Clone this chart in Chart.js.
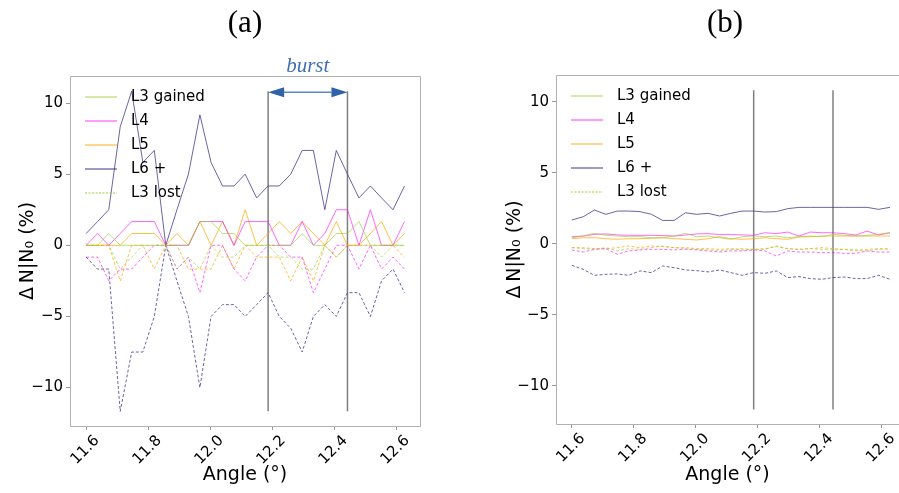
<!DOCTYPE html>
<html>
<head>
<meta charset="utf-8">
<script src="https://cdn.jsdelivr.net/npm/chart.js@4.4.0/dist/chart.umd.min.js"></script>
<style>
  html, body { margin: 0; padding: 0; background: #fff; overflow: hidden; }
  #wrap { position: relative; width: 899px; height: 493px; }
  .panel { position: absolute; top: 0; height: 493px; }
  .ptitle { position: absolute; top: 4px; font-family: "Liberation Serif", serif; font-size: 31px; color: #000; transform: translateX(-50%); }
</style>
</head>
<body>
<div id="wrap">
  <div class="panel" style="left:0;width:450px"><canvas id="chartA" width="450" height="493"></canvas></div>
  <div class="panel" style="left:450px;width:449px"><canvas id="chartB" width="449" height="493"></canvas></div>
  <div class="ptitle" style="left:245px">(a)</div>
  <div class="ptitle" style="left:725px">(b)</div>
</div>
<script>
// angles (deg) of the scan
const angles = [11.600, 11.637, 11.673, 11.710, 11.747, 11.783, 11.820, 11.857, 11.893, 11.930,
                11.967, 12.003, 12.040, 12.077, 12.113, 12.150, 12.187, 12.223, 12.260, 12.297,
                12.333, 12.370, 12.407, 12.443, 12.480, 12.517, 12.553, 12.590, 12.627];

// panel (a)
const a_L3gained = [0, 0, 0.83, 0, 0, 0, 0, 0, 0, 0, 1.67, 1.67, 0.83, 0.83, 0, 0, 0, 0, 0, 0.83, 0, 0, 0.83, 0.83, 1.67, 0, 0, 0, 0];
const a_L4 = [0, 0.83, 0, 0.83, 1.67, 1.67, 1.67, 0, 0, 0, 1.67, 1.67, 1.67, 0, 1.67, 1.67, 1.67, 0, 0, 1.67, 0, 0.83, 2.5, 2.5, 0, 2.5, 0, 0, 1.67];
const a_L5 = [0, 0, 0, 0, 0.83, 0.83, 0.83, 0, 0.83, 0, 1.67, 0, 1.67, 0, 2.5, 0, 0.83, 1.67, 0.83, 1.67, 0.83, 0, 1.67, 0, 0, 0.83, 1.67, 0, 0.83];
const a_L6 = [0.83, 1.67, 2.5, 8.33, 10.83, 5.83, 6.67, 0, 2.5, 5, 9.17, 5.83, 4.17, 4.17, 5, 3.33, 4.17, 4.17, 5, 6.67, 6.67, 2.5, 6.67, 5, 3.33, 4.17, 3.33, 2.5, 4.17];
const a_L3lost = [0, 0, 0, -1.67, -0.83, 0, 0, 0, -1.67, -0.83, -1.67, 0, -0.83, -0.83, 0, 0, 0, -0.83, -0.83, -1.67, -1.67, 0, -0.83, 0, 0, 0, -0.83, 0, 0];
const a_L4lost = [-0.83, -0.83, -2.5, -1.67, -1.67, -0.83, 0, 0, -1.67, -0.83, -3.33, 0, 0, -1.67, -2.5, -0.83, 0, 0, -0.83, -0.83, -3.33, -1.67, 0, 0, -1.67, 0, -1.67, -0.83, -1.67];
const a_L5lost = [0, 0, 0, -2.5, 0, 0, -1.67, 0, 0, -1.67, -1.67, -1.67, 0, -1.67, 0, -0.83, -0.83, -0.83, -2.5, -0.83, -2.5, 0, -0.83, 0, 0, 0, 0, 0, -0.83];
const a_L6lost = [-0.83, -1.67, -1.67, -11.67, -7.5, -7.5, -5, 0, -2.5, -5, -10, -5, -4.17, -4.17, -5, -4.17, -3.33, -5, -5.83, -7.5, -5, -4.17, -5, -3.33, -3.33, -5, -2.5, -1.67, -3.33];

// panel (b)
const b_L3gained = [0.43, 0.55, 0.74, 0.6, 0.55, 0.5, 0.5, 0.43, 0.43, 0.55, 0.74, 0.5, 0.55, 0.43, 0.32, 0.5, 0.55, 0.5, 0.55, 0.43, 0.5, 0.55, 0.5, 0.67, 0.6, 0.55, 0.6, 0.67, 0.79];
const b_L4 = [0.5, 0.55, 0.67, 0.7, 0.63, 0.6, 0.6, 0.6, 0.58, 0.55, 0.62, 0.7, 0.72, 0.65, 0.65, 0.63, 0.6, 0.78, 0.72, 0.83, 0.55, 0.83, 0.78, 0.78, 0.72, 0.62, 0.9, 0.62, 0.78];
const b_L5 = [0.36, 0.43, 0.43, 0.36, 0.32, 0.36, 0.36, 0.39, 0.43, 0.36, 0.32, 0.27, 0.36, 0.5, 0.36, 0.32, 0.36, 0.43, 0.36, 0.32, 0.48, 0.5, 0.55, 0.55, 0.55, 0.55, 0.55, 0.55, 0.55];
const b_L6 = [1.68, 1.91, 2.38, 2.08, 2.31, 2.31, 2.27, 2.08, 1.65, 1.65, 2.19, 2.08, 2.15, 1.96, 2.15, 2.31, 2.31, 2.24, 2.27, 2.48, 2.57, 2.57, 2.57, 2.57, 2.57, 2.57, 2.57, 2.43, 2.57];
const b_L3lost = [-0.27, -0.34, -0.39, -0.27, -0.5, -0.34, -0.39, -0.27, -0.15, -0.27, -0.34, -0.39, -0.43, -0.5, -0.39, -0.34, -0.39, -0.34, -0.2, -0.34, -0.39, -0.34, -0.39, -0.43, -0.39, -0.39, -0.5, -0.39, -0.34];
const b_L4lost = [-0.43, -0.58, -0.39, -0.34, -0.74, -0.5, -0.43, -0.39, -0.39, -0.43, -0.39, -0.43, -0.5, -0.58, -0.5, -0.5, -0.43, -0.5, -0.86, -0.5, -0.58, -0.58, -0.62, -0.62, -0.67, -0.67, -0.5, -0.58, -0.58];
const b_L5lost = [-0.27, -0.27, -0.34, -0.34, -0.27, -0.15, -0.27, -0.15, -0.2, -0.27, -0.27, -0.34, -0.34, -0.39, -0.34, -0.43, -0.39, -0.39, -0.15, -0.34, -0.39, -0.34, -0.27, -0.34, -0.39, -0.5, -0.39, -0.34, -0.39];
const b_L6lost = [-1.51, -1.8, -2.22, -2.15, -2.12, -2.22, -1.91, -2.03, -1.56, -1.68, -1.84, -1.89, -1.98, -1.84, -2.03, -2.22, -2.03, -2.08, -1.91, -2.38, -2.31, -2.45, -2.5, -2.38, -2.34, -2.45, -2.45, -2.22, -2.5];

// burst window and range of the vertical markers
const burstStart = 12.187;
const burstEnd = 12.443;
const markerRange = [-11.67, 10.83];

const xTicks = [11.6, 11.8, 12.0, 12.2, 12.4, 12.6];
const yTicks = [-10, -5, 0, 5, 10];

const legendNames = ["L3 gained", "L4", "L5", "L6 +", "L3 lost"];

const colL3 = "rgba(154,205,50,0.65)";
const colL4 = "rgba(255,0,255,0.6)";
const colL5 = "rgba(255,165,0,0.7)";
const colL6 = "rgba(72,61,139,0.8)";
const legendColors = [colL3, colL4, colL5, colL6, colL3];
const legendDashed = [false, false, false, false, true];

const FONT = "DejaVu Sans";

function series(vals, color, dashed) {
  return {
    data: angles.map((x, i) => ({ x: x, y: vals[i] })),
    borderColor: color,
    borderWidth: 1,
    borderDash: dashed ? [3, 2] : [],
    pointRadius: 0,
    tension: 0,
    fill: false,
  };
}

function marker(x) {
  return {
    data: [{ x: x, y: markerRange[0] }, { x: x, y: markerRange[1] }],
    borderColor: "#7f7f7f",
    borderWidth: 1.5,
    pointRadius: 0,
    fill: false,
  };
}

// frame around the plot area (b has its right side cut off)
const framePlugin = {
  id: "frame",
  afterDraw(chart, args, opts) {
    const { ctx, chartArea: ca } = chart;
    ctx.save();
    ctx.strokeStyle = "#b0b0b0";
    ctx.lineWidth = 1;
    ctx.beginPath();
    if (opts.right) {
      ctx.moveTo(ca.right + 0.5, ca.top + 0.5);
      ctx.lineTo(ca.right + 0.5, ca.bottom + 0.5);
    }
    ctx.moveTo(ca.left + 0.5, ca.top + 0.5);
    ctx.lineTo(ca.right + 0.5, ca.top + 0.5);
    ctx.moveTo(ca.left + 0.5, ca.top + 0.5);
    ctx.lineTo(ca.left + 0.5, ca.bottom + 0.5);
    ctx.lineTo(ca.right + 0.5, ca.bottom + 0.5);
    ctx.stroke();
    ctx.restore();
  },
};

const legendPlugin = {
  id: "miniLegend",
  afterDatasetsDraw(chart) {
    const { ctx, chartArea: ca } = chart;
    const x0 = ca.left + 15, y0 = ca.top + 21;
    ctx.save();
    ctx.font = "15px '" + FONT + "'";
    ctx.textBaseline = "middle";
    ctx.fillStyle = "#000";
    legendNames.forEach((name, i) => {
      const y = y0 + i * 24;
      ctx.strokeStyle = legendColors[i];
      ctx.lineWidth = 1.3;
      ctx.setLineDash(legendDashed[i] ? [2, 1.5] : []);
      ctx.beginPath();
      ctx.moveTo(x0, y);
      ctx.lineTo(x0 + 32, y);
      ctx.stroke();
      ctx.setLineDash([]);
      ctx.fillText(name, x0 + 46, y);
    });
    ctx.restore();
  },
};

// double arrow + "burst" label
const burstPlugin = {
  id: "burst",
  afterDraw(chart, args, opts) {
    if (!opts.show) return;
    const { ctx, scales } = chart;
    const x1 = scales.x.getPixelForValue(burstStart);
    const x2 = scales.x.getPixelForValue(burstEnd);
    const y = scales.y.getPixelForValue(markerRange[1]) + 1;
    const hl = 16, hw = 5;
    ctx.save();
    ctx.strokeStyle = "#5b86c2";
    ctx.lineWidth = 1.5;
    ctx.beginPath();
    ctx.moveTo(x1 + hl, y);
    ctx.lineTo(x2 - hl, y);
    ctx.stroke();
    ctx.fillStyle = "#2f62a8";
    ctx.beginPath();
    ctx.moveTo(x1, y);
    ctx.lineTo(x1 + hl, y - hw);
    ctx.lineTo(x1 + hl, y + hw);
    ctx.closePath();
    ctx.fill();
    ctx.beginPath();
    ctx.moveTo(x2, y);
    ctx.lineTo(x2 - hl, y - hw);
    ctx.lineTo(x2 - hl, y + hw);
    ctx.closePath();
    ctx.fill();
    ctx.font = "italic 21px 'Liberation Serif'";
    ctx.textAlign = "center";
    ctx.textBaseline = "alphabetic";
    ctx.fillStyle = "#3f6fb3";
    ctx.fillText("burst", (x1 + x2) / 2, y - 20);
    ctx.restore();
  },
};

function makeChart(id, d, cfg) {
  const ctx = document.getElementById(id).getContext("2d");
  return new Chart(ctx, {
    type: "line",
    data: {
      datasets: [
        series(d[0], colL3, false),
        series(d[1], colL4, false),
        series(d[2], colL5, false),
        series(d[3], colL6, false),
        series(d[4], colL3, true),
        series(d[5], colL4, true),
        series(d[6], colL5, true),
        series(d[7], colL6, true),
        marker(burstStart),
        marker(burstEnd),
      ],
    },
    options: {
      responsive: false,
      animation: false,
      layout: { padding: cfg.padding },
      plugins: {
        legend: { display: false },
        tooltip: { enabled: false },
        frame: { right: cfg.frameRight },
        burst: { show: cfg.arrow },
      },
      scales: {
        x: {
          type: "linear",
          min: cfg.xMin,
          max: cfg.xMax,
          afterBuildTicks: (s) => { s.ticks = xTicks.map((v) => ({ value: v })); },
          afterFit: (s) => { s.height = cfg.xHeight; },
          ticks: {
            minRotation: 45,
            maxRotation: 45,
            color: "#000",
            font: { family: FONT, size: 15 },
            padding: 2,
            labelOffset: 11,
            callback: (v) => Number(v).toFixed(1),
          },
          grid: { drawOnChartArea: false, drawTicks: true, tickLength: 4, color: "#999" },
          border: { display: false },
          title: {
            display: true,
            text: "Angle (°)",
            color: "#000",
            font: { family: FONT, size: 19 },
            padding: { top: 0, bottom: 7 },
          },
        },
        y: {
          type: "linear",
          min: -12.7,
          max: 11.9,
          afterBuildTicks: (s) => { s.ticks = yTicks.map((v) => ({ value: v })); },
          afterFit: (s) => { s.width = cfg.yWidth; },
          ticks: {
            color: "#000",
            font: { family: FONT, size: 15 },
            padding: 3,
            callback: (v) => (v < 0 ? "\u2212" + Math.abs(v) : String(v)),
          },
          grid: { drawOnChartArea: false, drawTicks: true, tickLength: 4, color: "#999" },
          border: { display: false },
          title: {
            display: true,
            text: "\u0394\u2009N|N\u2080 (%)",
            color: "#000",
            font: { family: FONT, size: 19 },
            padding: { top: 17, bottom: 0 },
          },
        },
      },
    },
    plugins: [framePlugin, legendPlugin, burstPlugin],
  });
}

makeChart("chartA",
  [a_L3gained, a_L4, a_L5, a_L6, a_L3lost, a_L4lost, a_L5lost, a_L6lost],
  { padding: { left: 0, top: 76, right: 30, bottom: 0 }, yWidth: 70, xHeight: 67,
    xMin: 11.548, xMax: 12.677, frameRight: true, arrow: true });

makeChart("chartB",
  [b_L3gained, b_L4, b_L5, b_L6, b_L3lost, b_L4lost, b_L5lost, b_L6lost],
  { padding: { left: 37, top: 75, right: 0, bottom: 0 }, yWidth: 69, xHeight: 69,
    xMin: 11.549, xMax: 12.656, frameRight: false, arrow: false });
</script>
</body>
</html>
